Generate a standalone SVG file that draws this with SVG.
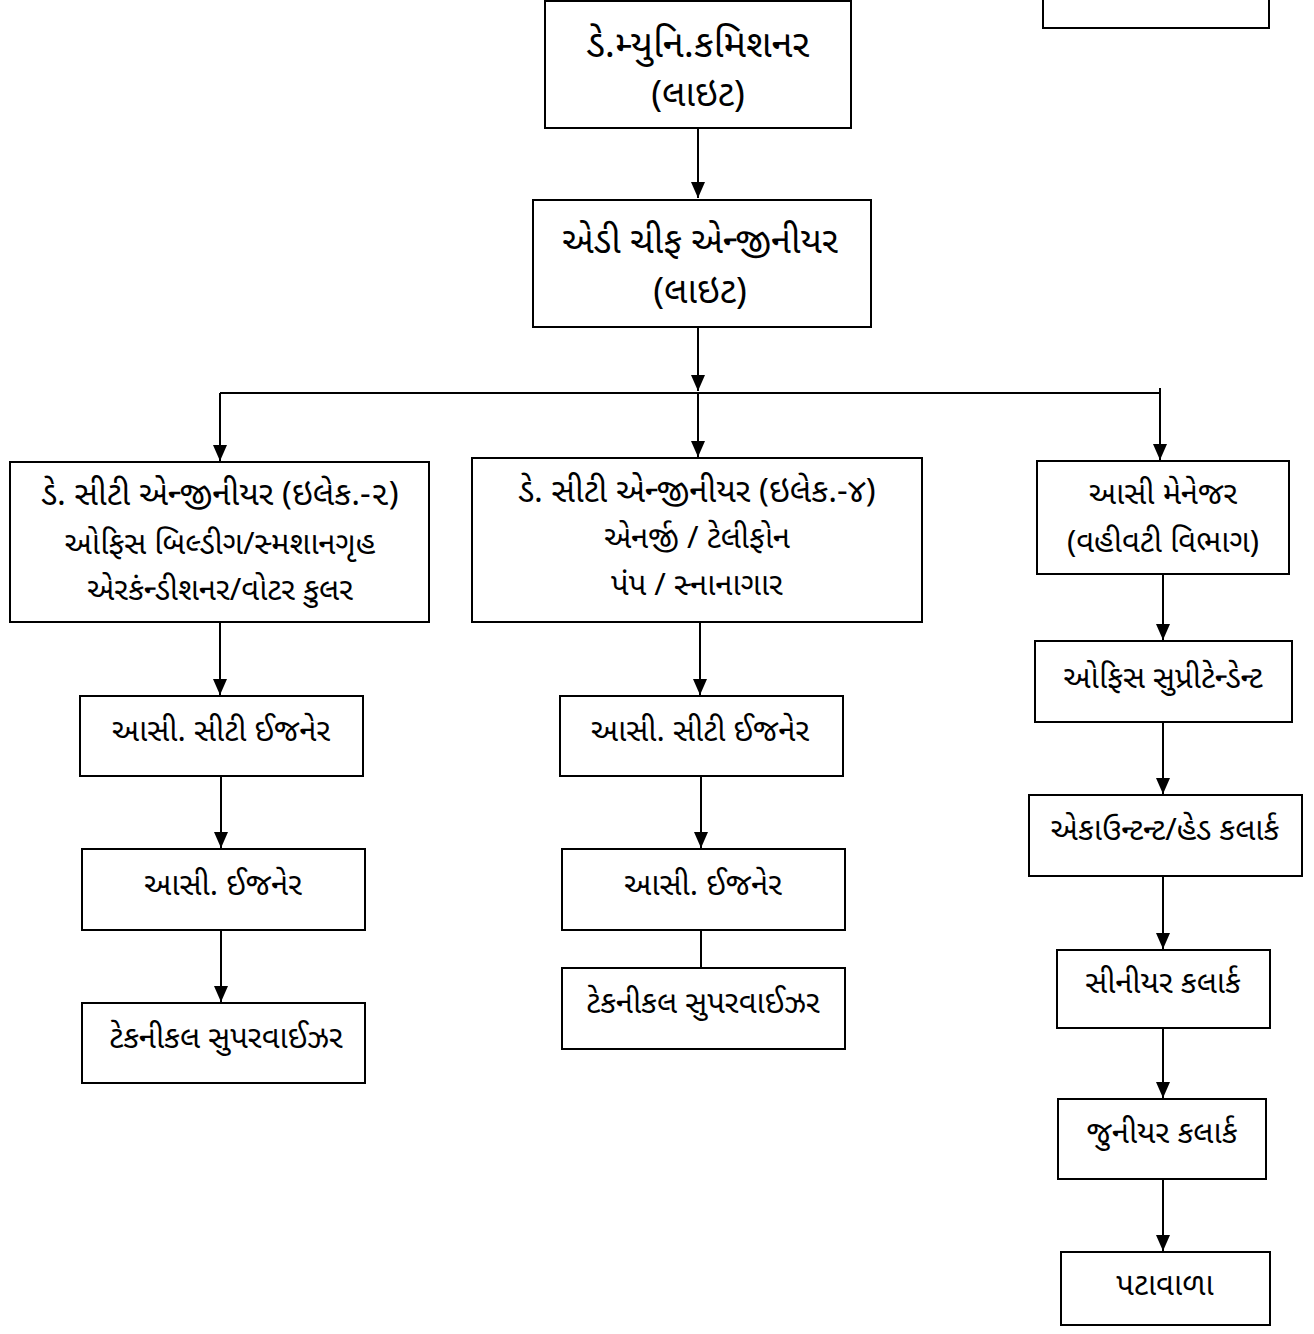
<svg xmlns="http://www.w3.org/2000/svg" width="1314" height="1334" viewBox="0 0 1314 1334">
<style>
.box{fill:#fff;stroke:#000;stroke-width:2}
.t{font-family:"Noto Sans Gujarati","Lohit Gujarati","Shruti","Noto Sans","DejaVu Sans",sans-serif;font-size:31px;fill:#000;text-anchor:middle}
.big{font-size:36px}
.mid{font-size:33px}
.c{stroke:#000;stroke-width:2;fill:none}
.a{marker-end:url(#ah)}
</style>
<defs>
<marker id="ah" viewBox="0 0 16 14" refX="16" refY="7" markerWidth="16" markerHeight="14" markerUnits="userSpaceOnUse" orient="auto">
<path d="M0,0 L16,7 L0,14 Z" fill="#000"/>
</marker>
</defs>
<rect width="1314" height="1334" fill="#fff"/>
<g id="connectors">
<line class="c a" x1="698" y1="128" x2="698" y2="198"/>
<line class="c a" x1="698" y1="327" x2="698" y2="391"/>
<polyline class="c" points="220,393 1160,393"/>
<line class="c" x1="1160" y1="388" x2="1160" y2="393"/>
<line class="c a" x1="220" y1="393" x2="220" y2="461"/>
<line class="c a" x1="698" y1="393" x2="698" y2="457"/>
<line class="c a" x1="1160" y1="393" x2="1160" y2="460"/>
<line class="c a" x1="220" y1="622" x2="220" y2="695"/>
<line class="c a" x1="221" y1="776" x2="221" y2="848"/>
<line class="c a" x1="221" y1="930" x2="221" y2="1002"/>
<line class="c a" x1="700" y1="622" x2="700" y2="695"/>
<line class="c a" x1="701" y1="776" x2="701" y2="848"/>
<line class="c" x1="701" y1="930" x2="701" y2="968"/>
<line class="c a" x1="1163" y1="574" x2="1163" y2="640"/>
<line class="c a" x1="1163" y1="722" x2="1163" y2="794"/>
<line class="c a" x1="1163" y1="876" x2="1163" y2="949"/>
<line class="c a" x1="1163" y1="1028" x2="1163" y2="1098"/>
<line class="c a" x1="1163" y1="1179" x2="1163" y2="1251"/>
</g>
<g id="n0"><rect class="box" x="1043" y="-5" width="226" height="33"/></g>
<g id="n1"><rect class="box" x="545" y="1" width="306" height="127"/>
<text class="t big" x="698" y="57" style="font-size:38px">ડે.મ્યુનિ.કમિશનર</text><text class="t big" x="698" y="106">(લાઇટ)</text></g>
<g id="n2"><rect class="box" x="533" y="200" width="338" height="127"/>
<text class="t big" x="700" y="253">એડી ચીફ એન્જીનીયર</text><text class="t big" x="700" y="303">(લાઇટ)</text></g>
<g id="n3"><rect class="box" x="10" y="462" width="419" height="160"/>
<text class="t mid" x="220" y="505">ડે. સીટી એન્જીનીયર (ઇલેક.-૨)</text><text class="t" x="220" y="554">ઓફિસ બિલ્ડીગ/સ્મશાનગૃહ</text><text class="t" x="220" y="600">એરકંન્ડીશનર/વોટર કુલર</text></g>
<g id="n4"><rect class="box" x="472" y="458" width="450" height="164"/>
<text class="t mid" x="697" y="502">ડે. સીટી એન્જીનીયર (ઇલેક.-૪)</text><text class="t" x="697" y="548">એનર્જી / ટેલીફોન</text><text class="t" x="697" y="595">પંપ / સ્નાનાગાર</text></g>
<g id="n5"><rect class="box" x="1037" y="461" width="252" height="113"/>
<text class="t" x="1163" y="504">આસી મેનેજર</text><text class="t" x="1163" y="552">(વહીવટી વિભાગ)</text></g>
<g id="n6"><rect class="box" x="80" y="696" width="283" height="80"/><text class="t" x="221" y="741">આસી. સીટી ઈજનેર</text></g>
<g id="n7"><rect class="box" x="82" y="849" width="283" height="81"/><text class="t" x="223" y="895">આસી. ઈજનેર</text></g>
<g id="n8"><rect class="box" x="82" y="1003" width="283" height="80"/><text class="t" x="226" y="1048">ટેકનીકલ સુપરવાઈઝર</text></g>
<g id="n9"><rect class="box" x="560" y="696" width="283" height="80"/><text class="t" x="700" y="741">આસી. સીટી ઈજનેર</text></g>
<g id="n10"><rect class="box" x="562" y="849" width="283" height="81"/><text class="t" x="703" y="895">આસી. ઈજનેર</text></g>
<g id="n11"><rect class="box" x="562" y="968" width="283" height="81"/><text class="t" x="703" y="1013">ટેકનીકલ સુપરવાઈઝર</text></g>
<g id="n12"><rect class="box" x="1035" y="641" width="257" height="81"/><text class="t" x="1163" y="688">ઓફિસ સુપ્રીટેન્ડેન્ટ</text></g>
<g id="n13"><rect class="box" x="1029" y="795" width="273" height="81"/><text class="t" x="1165" y="840">એકાઉન્ટન્ટ/હેડ કલાર્ક</text></g>
<g id="n14"><rect class="box" x="1057" y="950" width="213" height="78"/><text class="t" x="1163" y="993">સીનીયર કલાર્ક</text></g>
<g id="n15"><rect class="box" x="1058" y="1099" width="208" height="80"/><text class="t" x="1162" y="1143">જુનીયર કલાર્ક</text></g>
<g id="n16"><rect class="box" x="1061" y="1252" width="209" height="73"/><text class="t" x="1165" y="1295">પટાવાળા</text></g>
</svg>
